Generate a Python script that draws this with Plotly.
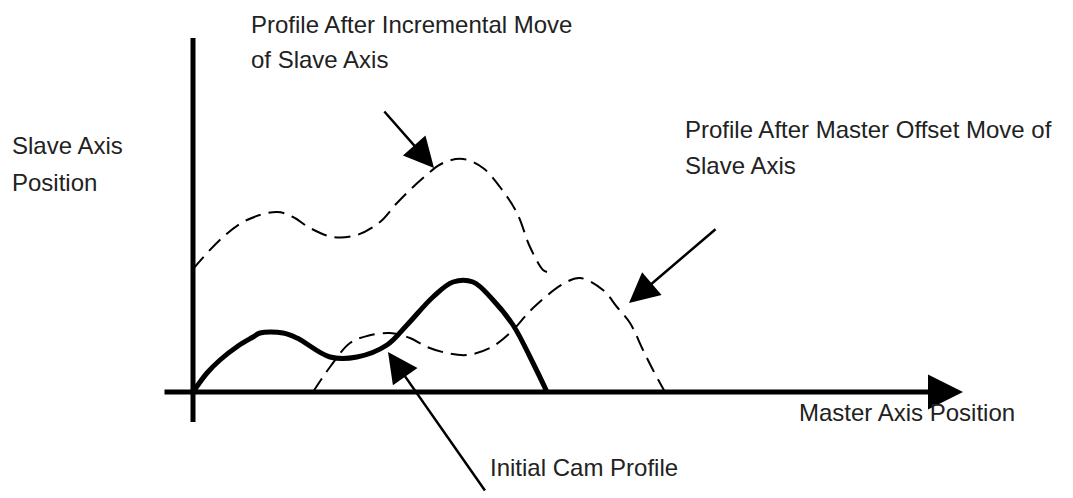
import plotly.graph_objects as go

# cam profiles (x = master position, y = slave position)
cam_x = [0, 14, 27, 45, 60, 67, 90, 104, 137, 164, 194, 214, 240, 260, 280, 300, 320, 340, 354]
cam_y = [0, 19, 32, 46, 55, 59, 59, 54, 35, 35, 47, 67, 95, 110, 110, 92, 67, 29, 0]

incr_x = [0, 30, 54, 84, 100, 117, 140, 164, 187, 204, 230, 250, 270, 290, 307, 324, 337, 350, 354]
incr_y = [123, 155, 172, 180, 175, 164, 155, 157, 170, 189, 214, 229, 233, 224, 205, 179, 145, 122, 120]

offs_x = [120, 137, 157, 174, 197, 217, 234, 254, 274, 297, 317, 340, 370, 387, 410, 424, 437, 450, 460, 472]
offs_y = [0, 25, 49, 56, 59, 54, 45, 39, 37, 44, 59, 84, 108, 114, 102, 85, 69, 42, 22, 0]

FONT = "Liberation Sans, Arial, sans-serif"
TXT = "#222222"

fig = go.Figure()

fig.add_trace(go.Scatter(x=incr_x, y=incr_y, mode="lines", line_shape="spline",
                         line=dict(color="black", width=2, dash="16px,8px")))
fig.add_trace(go.Scatter(x=offs_x, y=offs_y, mode="lines", line_shape="spline",
                         line=dict(color="black", width=2, dash="16px,8px")))
fig.add_trace(go.Scatter(x=cam_x, y=cam_y, mode="lines", line_shape="spline",
                         line=dict(color="black", width=5)))

# axes of the diagram
fig.add_shape(type="line", x0=0, y0=-30, x1=0, y1=354, line=dict(color="black", width=5))
fig.add_annotation(x=770, y=0, ax=-30, ay=0, axref="x", ayref="y", text="",
                   showarrow=True, arrowhead=2, arrowsize=1.4, arrowwidth=5, arrowcolor="black")

# pointer arrows
pointers = [
    (241, 224, 190, 282),   # incremental move
    (436, 89, 524, 164),    # master offset move
    (195, 40, 293, -100),   # initial cam profile
]
for x, y, ax, ay in pointers:
    fig.add_annotation(x=x, y=y, ax=ax, ay=ay, axref="x", ayref="y", text="",
                       showarrow=True, arrowhead=2, arrowsize=2.4, arrowwidth=2.5, arrowcolor="black")

labels = [
    ("Profile After Incremental Move", 56, 368),
    ("of Slave Axis", 56, 333),
    ("Slave Axis", -183, 247),
    ("Position", -183, 210),
    ("Profile After Master Offset Move of", 490, 263),
    ("Slave Axis", 490, 227),
    ("Master Axis Position", 604, -20),
    ("Initial Cam Profile", 295, -75),
]
for t, x, y in labels:
    fig.add_annotation(x=x, y=y, text=t, showarrow=False, xanchor="left", yanchor="middle",
                       font=dict(family=FONT, size=24, color=TXT))

# page body has an 8px margin, so the figure is 8px smaller and the ranges are shifted
fig.update_layout(
    width=1065, height=490,
    margin=dict(l=0, r=0, t=0, b=0),
    paper_bgcolor="white", plot_bgcolor="white",
    showlegend=False,
    xaxis=dict(range=[-185, 880], visible=False, fixedrange=True),
    yaxis=dict(range=[-106, 384], visible=False, fixedrange=True),
)

fig.write_html("out.html")
